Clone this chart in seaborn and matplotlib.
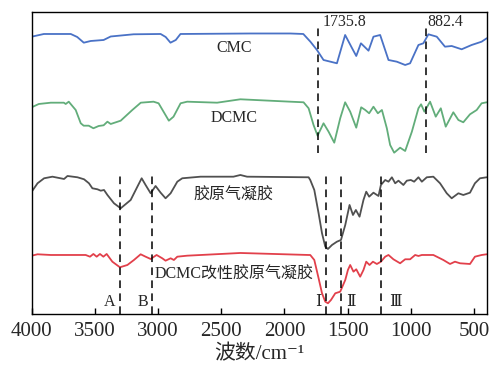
import numpy as np
import pandas as pd
import matplotlib
matplotlib.use("Agg")
import matplotlib.pyplot as plt
import seaborn as sns

# --- data (wavenumber in cm-1, stacked transmittance in arbitrary units) ---
cmc_wn = [4000, 3904, 3691, 3640, 3588, 3533, 3431, 3375, 3194, 2980, 2940, 2902, 2860, 2823, 2270,
          1954, 1851, 1795, 1743, 1691, 1585, 1520, 1466, 1432, 1395, 1335, 1296, 1243, 1177,
          1111, 1045, 1006, 940, 901, 861, 795, 730, 677, 598, 519, 440, 400]
cmc_t = [277.3, 280, 280, 277, 271.3, 273, 274, 277.5, 279.7, 280, 277, 271.3, 274, 280, 280.5,
         280.5, 280, 272.3, 264, 254, 250.7, 279, 266, 258, 270.7, 263.3, 277.3, 279, 254,
         252.3, 249, 250.7, 269, 270.7, 279.7, 277.3, 267.3, 268, 264.7, 269, 272.3, 275.7]

dcmc_wn = [4000, 3944, 3849, 3746, 3731, 3707, 3652, 3612, 3589, 3549, 3512, 3470, 3431, 3401,
           3375, 3296, 3204, 3137, 3036, 2996, 2915, 2878, 2822, 2770, 2533, 2349, 1954, 1849,
           1809, 1770, 1738, 1691, 1651, 1606, 1559, 1520, 1480, 1432, 1393, 1361, 1330, 1296,
           1261, 1229, 1190, 1164, 1132, 1085, 1045, 992, 940, 919, 893, 848, 803, 763, 724,
           664, 624, 585, 532, 479, 440, 400]
dcmc_t = [206.7, 210, 211.3, 211.3, 210, 212.3, 204, 190.7, 188.3, 188.3, 185.7, 188, 188.7, 192.3,
          190, 193.3, 204, 211.3, 212.3, 210.7, 193.3, 197.3, 210.7, 212.3, 211.3, 214.7, 212.3, 211.7,
          205.7, 189, 178.3, 190.7, 182.3, 171.3, 195.7, 211.7, 202.3, 186.3, 206.7, 204, 200.7, 207.3,
          200.7, 204, 185.7, 169, 161.3, 166.3, 163, 182.3, 205.7, 209.7, 202.3, 212.3, 197.3, 205.7, 187.3,
          201.7, 194, 191.7, 199.7, 204, 210.7, 211.7]

col_wn = [4000, 3954, 3902, 3836, 3744, 3717, 3638, 3586, 3547, 3520, 3480, 3454, 3428, 3401,
          3349, 3296, 3217, 3164, 3130, 3099, 3059, 3020, 2980, 2941, 2901, 2848, 2809, 2664,
          2404, 2349, 2296, 1809, 1796, 1764, 1730, 1703, 1677, 1656, 1624, 1585, 1553, 1519,
          1485, 1458, 1435, 1406, 1375, 1353, 1330, 1296, 1256, 1237, 1203, 1177, 1150, 1124,
          1098, 1059, 1032, 1000, 974, 940, 913, 874, 822, 769, 716, 677, 624, 585, 532, 493,
          453, 400]
col_t = [122.3, 130.7, 135.7, 137.3, 135, 138, 136.7, 134.7, 130.7, 125.7, 124.7, 123.3, 124, 119,
         110.7, 105.7, 114, 127.3, 135.7, 129, 120.7, 128, 121.3, 115.7, 120.7, 132.3, 135.7, 137.3,
         137.3, 139, 137.3, 136.7, 134, 124, 100.7, 80.7, 67.3, 65, 69, 72.3, 74, 89,
         109, 99, 104, 97.3, 114, 122.3, 117.3, 121.3, 118, 129, 134, 132.3, 136.7, 130.7,
         133.3, 129, 133.3, 134, 132.3, 136.7, 132.3, 136.7, 137.3, 130.7, 120.7, 115.7, 120.7, 119, 121.3, 130.7,
         135.7, 136.7]

mod_wn = [4000, 3954, 3849, 3691, 3573, 3539, 3512, 3486, 3460, 3433, 3407, 3362, 3302, 3243,
          3191, 3138, 3099, 3059, 3012, 2967, 2941, 2901, 2875, 2848, 2770, 2349, 1809, 1796,
          1764, 1730, 1703, 1677, 1656, 1632, 1598, 1559, 1519, 1498, 1480, 1454, 1432, 1401,
          1375, 1353, 1327, 1300, 1269, 1237, 1203, 1177, 1138, 1085, 1045, 1006, 966, 940,
          913, 822, 743, 690, 651, 611, 532, 493, 440, 400]
mod_t = [58.3, 59.7, 59, 59, 59, 57.3, 60, 57.3, 60, 57.3, 60, 52.3, 46.7, 49,
         54, 59.7, 57.3, 55, 59, 55.7, 53.3, 55.7, 54, 57.3, 58.3, 61, 59, 59,
         54, 35.7, 20.7, 12.3, 10.7, 14, 20.7, 22.3, 34, 44, 49, 42.3, 44.7, 37.3,
         44, 52.3, 49, 52.3, 50, 52.3, 57.3, 59, 54.7, 50.7, 54.7, 54.7, 59, 58,
         59, 59, 54, 50, 52.3, 50.7, 50, 57.3, 59, 59.7]

names = ["CMC", "DCMC", "胶原气凝胶", "DCMC改性胶原气凝胶"]
colors = ["#4a72c6", "#62ad7a", "#505050", "#e2404b"]

# reference marks
peak_lines = [1735.8, 882.4]
region_lines = [3300, 3050, 1668, 1556, 1240]
region_names = ["A", "B", "Ⅰ", "Ⅱ", "Ⅲ"]
region_name_x = [3383, 3122, 1733, 1472, 1124]

sns.set_style("white")
serif = ["Liberation Serif", "Noto Sans CJK SC", "DejaVu Serif"]
plt.rcParams["font.family"] = serif

fig = plt.figure(figsize=(4.91, 3.70), dpi=100)
ax = fig.add_axes([0.0646, 0.1514, 0.9266, 0.8162])

curves = [(cmc_wn, cmc_t), (dcmc_wn, dcmc_t), (col_wn, col_t), (mod_wn, mod_t)]
for (wn, t), c in zip(curves, colors):
    sns.lineplot(x=wn, y=t, color=c, lw=1.3, sort=False, estimator=None, ax=ax)

# curve names
label_y = [265.5, 196, 118.5, 39.5]
for name, yy in zip(names, label_y):
    ax.text(2400, yy, name, ha="center", va="center", fontsize=11.5, family=serif)

# dashed markers
for v in peak_lines:
    ax.plot([v, v], [161, 289], ls=(0, (5, 3.5)), color="black", lw=1.1)
ax.text(1700, 292, "1735.8", ha="left", va="center", fontsize=11.5)
ax.text(866, 292, "882.4", ha="left", va="center", fontsize=11.5)

for v in region_lines:
    ax.plot([v, v], [0, 141], ls=(0, (5, 3.5)), color="black", lw=1.1)
for name, xx in zip(region_names, region_name_x):
    ax.text(xx, 12, name, ha="center", va="center", fontsize=11.5,
            family=["DejaVu Serif", "Liberation Serif"] if name in "ⅠⅡⅢ" else serif)

ax.set_xlim(4000, 400)
ax.set_ylim(0, 302)
ax.set_yticks([])
ax.set_xticks([4000, 3500, 3000, 2500, 2000, 1500, 1000, 500])
ax.tick_params(axis="x", direction="in", length=4, width=1, pad=6, labelsize=15,
               bottom=True, top=False, color="black")
for s in ax.spines.values():
    s.set_color("black")
    s.set_linewidth(1.0)
ax.set_xlabel("波数/cm⁻¹", fontsize=15, labelpad=3, family=serif)

fig.savefig("out.png", dpi=100)
